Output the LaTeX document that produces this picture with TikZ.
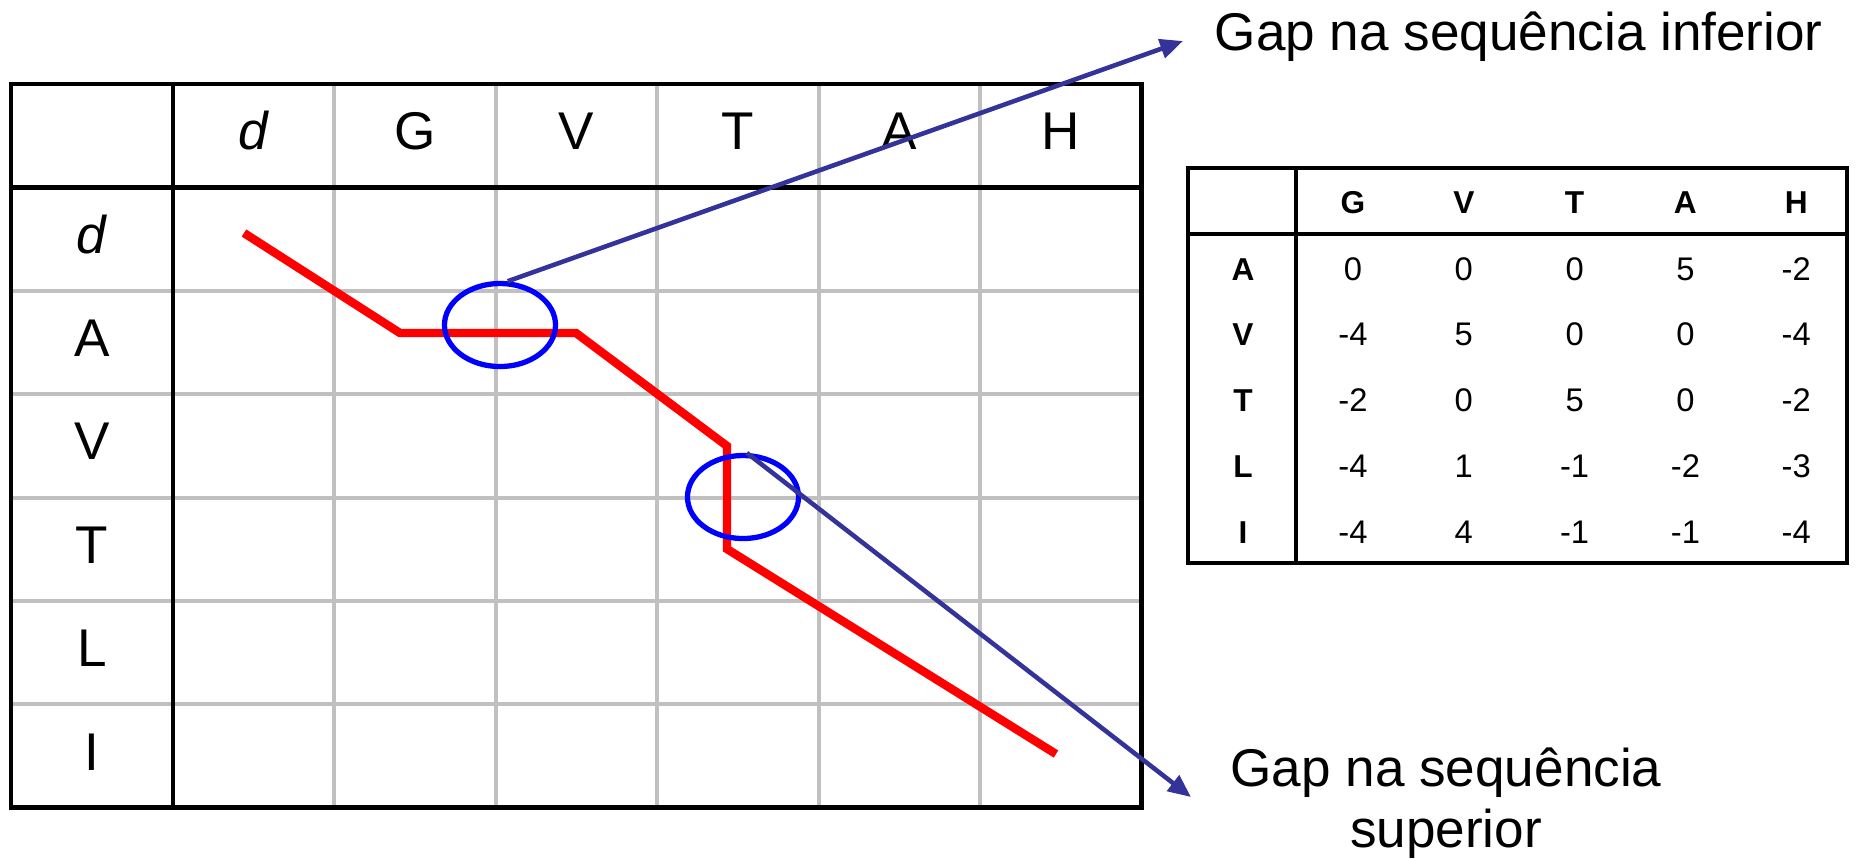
\documentclass[tikz,border=0pt]{standalone}
\usepackage{fontspec}
\setmainfont{Liberation Sans}
\usetikzlibrary{arrows.meta,shapes.geometric}
\definecolor{gridgray}{HTML}{C0C0C0}
\definecolor{arrowblue}{HTML}{333399}

\begin{document}
\begin{tikzpicture}[
  x=0.01cm, y=-0.01cm,
  big/.style={font=\fontsize{15.1}{17.1}\selectfont, inner sep=0pt, anchor=base},
  small/.style={font=\fontsize{9.3}{11}\selectfont, inner sep=0pt, anchor=base},
  smallb/.style={small, font=\fontsize{9}{11}\selectfont\bfseries},
  frame/.style={line width=1.2pt},
  grey/.style={line width=1.15pt, draw=gridgray},
  route/.style={line width=2.4pt, draw=red},
  ring/.style={ellipse, draw=blue, line width=1.5pt, inner sep=0pt,
               minimum width=1.11cm, minimum height=0.83cm},
  ar/.style={-{Triangle[length=6.5pt,width=5.5pt]}, line width=1.3pt, draw=arrowblue}
]
  \useasboundingbox (0,0) rectangle (1863,859);

  % dynamic programming matrix
  \foreach \k in {1,...,5}
    \draw[grey] ({173+161.4*\k},84) -- ({173+161.4*\k},807.5);
  \foreach \k in {2,...,6}
    \draw[grey] (11,{84+103.4*\k}) -- (1141.5,{84+103.4*\k});
  \draw[frame] (11,84) rectangle (1141.5,807.5);
  \draw[frame] (173,84) -- (173,807.5);
  \draw[frame] (11,187.4) -- (1141.5,187.4);

  \foreach \t [count=\k] in {\textit{d},G,V,T,A,H}
    \node[big] (col\k) at ({173+161.4*(\k-0.5)},149) {\t};
  \foreach \t [count=\k] in {\textit{d},A,V,T,L,I}
    \node[big] (row\k) at (92,{84+103.4*(\k+0.5)+14}) {\t};

  % substitution scores
  \draw[frame] (1188,168) rectangle (1847,563);
  \draw[frame] (1296,168) -- (1296,563);
  \draw[frame] (1188,234) -- (1847,234);
  \foreach \t [count=\k] in {G,V,T,A,H}
    \node[smallb] (sh\k) at ({1353+110.8*(\k-1)},213) {\t};
  \foreach \r/\vals [count=\i] in {A/{0,0,0,5,-2}, V/{-4,5,0,0,-4},
      T/{-2,0,5,0,-2}, L/{-4,1,-1,-2,-3}, I/{-4,4,-1,-1,-4}} {
    \node[smallb] (sr\i) at (1243,{280+65.75*(\i-1)}) {\r};
    \foreach \v [count=\j] in \vals
      \node[small] (s\i-\j) at ({1353+110.8*(\j-1)},{280+65.75*(\i-1)}) {\v};
  }

  % alignment path
  \coordinate (p0) at (244,233);
  \coordinate (p1) at (400,333);
  \coordinate (p2) at (576,333);
  \coordinate (p3) at (727,446);
  \coordinate (p4) at (727,549);
  \coordinate (p5) at (1056,754);
  \draw[route] (p0) -- (p1) -- (p2) -- (p3) -- (p4) -- (p5);

  \node[ring] (gapinf) at (500,325) {};
  \node[ring] (gapsup) at (743,497) {};

  \node[big, anchor=base west] (lblinf) at (1214,50) {Gap na sequência inferior};
  \node[big, align=center] (lblsup) at (1446,847) {Gap na sequência\\superior};

  \coordinate (tipinf) at (1183,41);
  \coordinate (tipsup) at (1191,797);
  \draw[ar] (gapinf.80) -- (tipinf);
  \draw[ar] (gapsup.85) -- (tipsup);
\end{tikzpicture}
\end{document}
